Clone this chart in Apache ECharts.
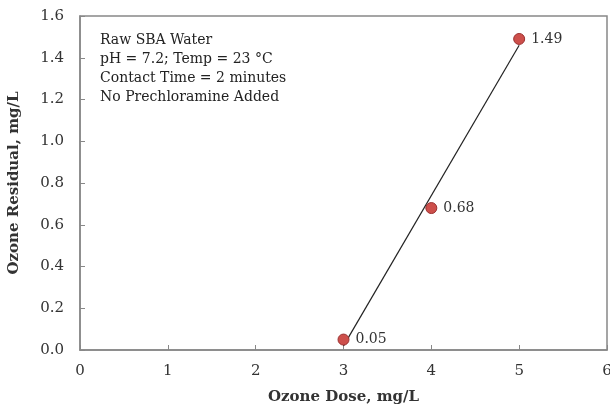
<!DOCTYPE html>
<html><head><meta charset="utf-8">
<script src="https://cdn.jsdelivr.net/npm/echarts@6/dist/echarts.min.js"></script>
<style>html,body{margin:0;padding:0;background:#fff}#c{width:610px;height:410px}</style>
</head><body><div id="c"></div>
<script>
const doses = [3, 4, 5];
const residuals = [0.05, 0.68, 1.49];
const pointLabels = ['0.05', '0.68', '1.49'];
const fitLine = [[3, 0.02], [5, 1.46]];
const notes = ['Raw SBA Water', 'pH = 7.2; Temp = 23 °C', 'Contact Time = 2 minutes', 'No Prechloramine Added'];
const font = 'DejaVu Serif, Liberation Serif, serif';

const lineC = '#888';
const chart = echarts.init(document.getElementById('c'));
chart.setOption({
  animation: false,
  grid: { left: 80, right: 3, top: 16, bottom: 60, outerBoundsMode: 'none', containLabel: false,
          show: true, borderColor: lineC, borderWidth: 1.5, backgroundColor: 'transparent' },
  xAxis: {
    type: 'value', min: 0, max: 6, interval: 1,
    name: 'Ozone Dose, mg/L', nameLocation: 'middle', nameGap: 40,
    nameTextStyle: { fontFamily: font, fontSize: 15, fontWeight: 'bold', color: '#333' },
    axisLine: { show: true, lineStyle: { color: lineC, width: 1.5 } },
    axisTick: { show: true, inside: true, length: 5, lineStyle: { color: lineC } },
    axisLabel: { fontFamily: font, fontSize: 15, color: '#333', margin: 14 },
    splitLine: { show: false }
  },
  yAxis: {
    type: 'value', min: 0, max: 1.6, interval: 0.2,
    name: 'Ozone Residual, mg/L', nameLocation: 'middle', nameGap: 58,
    nameTextStyle: { fontFamily: font, fontSize: 15, fontWeight: 'bold', color: '#333' },
    axisLine: { show: true, lineStyle: { color: lineC, width: 1.5 } },
    axisTick: { show: true, inside: true, length: 5, lineStyle: { color: lineC } },
    axisLabel: { fontFamily: font, fontSize: 15, color: '#333', margin: 16, formatter: v => v.toFixed(1) },
    splitLine: { show: false }
  },
  graphic: [
    { type: 'text', left: 100, top: 31, style: { text: notes.join('\n'), fontFamily: font, fontSize: 14, lineHeight: 19, fill: '#222' } }
  ],
  series: [
    { type: 'line', data: fitLine, symbol: 'none', lineStyle: { color: '#222', width: 1.2 }, z: 2 },
    {
      type: 'scatter', data: doses.map((d, i) => [d, residuals[i]]), symbolSize: 11,
      itemStyle: { color: '#cd4f4b', borderColor: '#9a3030', borderWidth: 1, opacity: 1 },
      label: { show: true, position: 'right', distance: 6, formatter: p => pointLabels[p.dataIndex], fontFamily: font, fontSize: 14, color: '#333' },
      z: 3
    }
  ]
});
</script></body></html>
